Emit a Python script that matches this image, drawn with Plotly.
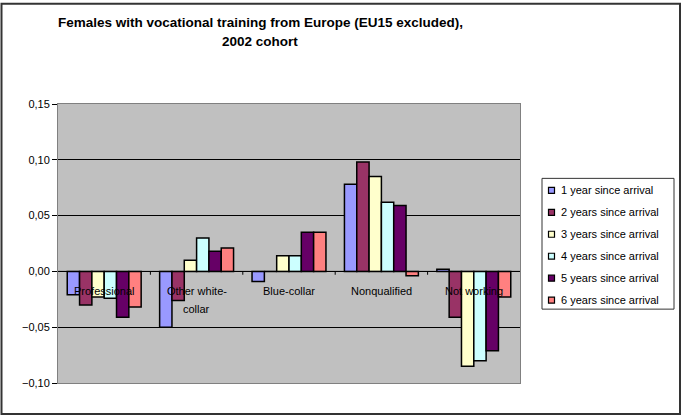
import plotly.graph_objects as go

categories = ["Professional", "Other white-collar", "Blue-collar", "Nonqualified", "Not working"]
category_labels = [["Professional"], ["Other white-", "collar"], ["Blue-collar"], ["Nonqualified"], ["Not working"]]
series_names = ["1 year since arrival", "2 years since arrival", "3 years since arrival",
                "4 years since arrival", "5 years since arrival", "6 years since arrival"]
values_1y = [-0.021, -0.050, -0.009, 0.078, 0.002]
values_2y = [-0.030, -0.026, 0.000, 0.098, -0.041]
values_3y = [-0.023, 0.010, 0.014, 0.085, -0.085]
values_4y = [-0.024, 0.030, 0.014, 0.062, -0.080]
values_5y = [-0.041, 0.018, 0.035, 0.059, -0.071]
values_6y = [-0.032, 0.021, 0.035, -0.004, -0.023]
series_values = [values_1y, values_2y, values_3y, values_4y, values_5y, values_6y]
colors = ["#9999FF", "#993366", "#FFFFCC", "#CCFFFF", "#660066", "#FF8080"]
y_ticks = [-0.10, -0.05, 0.00, 0.05, 0.10, 0.15]

x_idx = list(range(len(categories)))

# plot-area pixel geometry
L, R, T, B = 58, 520, 103.5, 383
W, H = R - L, B - T


def px(x):
    return (x - L) / W


def py(y):
    return (B - y) / H


fig = go.Figure()
for name, vals, col in zip(series_names, series_values, colors):
    fig.add_trace(go.Bar(
        x=x_idx, y=vals, name=name, showlegend=False,
        marker=dict(color=col, line=dict(color="black", width=1.5)),
    ))

font = "Arial, Liberation Sans, sans-serif"

annotations = [
    dict(text="<b>Females with vocational training from Europe (EU15 excluded),</b>",
         xref="paper", yref="paper", x=px(260), y=py(22),
         showarrow=False, xanchor="center", yanchor="middle",
         font=dict(family=font, size=13.5, color="black")),
    dict(text="<b>2002 cohort</b>",
         xref="paper", yref="paper", x=px(260), y=py(41),
         showarrow=False, xanchor="center", yanchor="middle",
         font=dict(family=font, size=13.5, color="black")),
]
for i, lines in enumerate(category_labels):
    for j, line in enumerate(lines):
        annotations.append(dict(
            text=line, x=i, y=0, xref="x", yref="y", showarrow=False,
            xanchor="center", yanchor="middle", yshift=-20 - 18 * j,
            font=dict(family=font, size=11, color="black")))

shapes = [
    dict(type="rect", xref="paper", yref="paper",
         x0=px(1.5), x1=px(680), y0=py(414), y1=py(3),
         line=dict(color="#333333", width=2), layer="below"),
    dict(type="line", xref="paper", yref="y", x0=0, x1=1, y0=0, y1=0,
         line=dict(color="black", width=1)),
    # legend box
    dict(type="rect", xref="paper", yref="paper",
         x0=px(542), x1=px(674), y0=py(309), y1=py(178),
         line=dict(color="#333333", width=1), fillcolor="white"),
]
for b in [0.5, 1.5, 2.5, 3.5]:
    shapes.append(dict(type="line", xref="x", yref="y", x0=b, x1=b, y0=0, y1=-0.003,
                       line=dict(color="black", width=1)))

# manual legend entries
for k, (name, col) in enumerate(zip(series_names, colors)):
    yc = 190 + 22 * k
    shapes.append(dict(type="rect", xref="paper", yref="paper",
                       x0=px(548.5), x1=px(554.5), y0=py(yc + 3), y1=py(yc - 3),
                       fillcolor=col, line=dict(color="black", width=1.2)))
    annotations.append(dict(text=name, xref="paper", yref="paper", x=px(559), y=py(yc),
                            showarrow=False, xanchor="left", yanchor="middle",
                            font=dict(family=font, size=11, color="black")))

fig.update_layout(
    width=684, height=416,
    margin=dict(l=L, r=684 - R, t=T, b=416 - B, pad=0),
    paper_bgcolor="white", plot_bgcolor="#C0C0C0",
    barmode="group", bargap=0.2, bargroupgap=0,
    separators=",.",
    showlegend=False,
    annotations=annotations,
    shapes=shapes,
    xaxis=dict(range=[-0.5, 4.5], showticklabels=False, showgrid=False, zeroline=False,
               showline=True, linecolor="#808080", mirror=True, ticks=""),
    yaxis=dict(range=[-0.10, 0.15], tickvals=y_ticks, tickformat=".2f",
               showgrid=True, gridcolor="black", gridwidth=1, zeroline=False,
               showline=True, linecolor="#808080", linewidth=1, mirror=True,
               ticks="outside", ticklen=5, tickcolor="black",
               tickfont=dict(family=font, size=11, color="black")),
    font=dict(family=font),
)
fig.write_html("out.html", config={"displayModeBar": False},
               post_script="document.body.style.margin='0';")
